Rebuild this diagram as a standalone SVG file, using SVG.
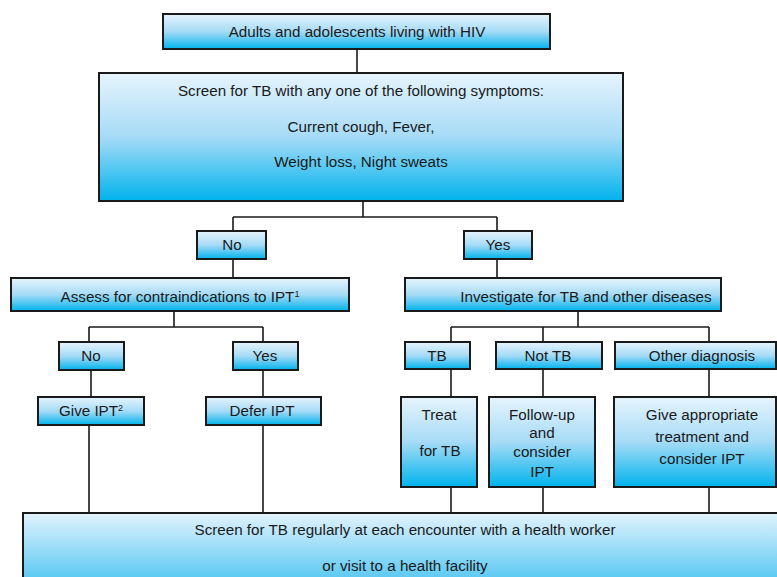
<svg xmlns="http://www.w3.org/2000/svg" width="777" height="577" viewBox="0 0 777 577">
<defs>
<linearGradient id="g" x1="0" y1="0" x2="0" y2="1">
<stop offset="0" stop-color="#e6f4fd"/>
<stop offset="0.5" stop-color="#a6dbf6"/>
<stop offset="1" stop-color="#00b3ed"/>
</linearGradient>
<linearGradient id="gb" x1="0" y1="0" x2="0" y2="1">
<stop offset="0" stop-color="#e2f3fd"/>
<stop offset="1" stop-color="#3fc0f0"/>
</linearGradient>
</defs>
<style>
.b{fill:url(#g);stroke:#1a1a1a;stroke-width:2}
.t{font-family:"Liberation Sans",Arial,sans-serif;font-size:15.2px;fill:#1a1a1a;text-anchor:middle}
.c{fill:none;stroke:#1a1a1a;stroke-width:1.6}
</style>
<rect width="777" height="577" fill="#ffffff"/>
<g id="connectors" class="c">
<path d="M357 49V73"/>
<path d="M363 201V217M233 217H497M233 217V231M497 217V231"/>
<path d="M233 258V278M497 258V278"/>
<path d="M174 311V327M89 327H263M89 327V342M263 327V342"/>
<path d="M91 370V397M263 370V397"/>
<path d="M578 311V327M451 327H709M451 327V342M543 327V342M709 327V342"/>
<path d="M451 369V397M543 369V397M709 369V397"/>
<path d="M89 425V513M263 425V513M451 487V513M543 487V513M709 487V513"/>
</g>
<g id="n1"><rect class="b" x="163" y="14" width="387" height="35"/><text class="t" x="357" y="37">Adults and adolescents living with HIV</text></g>
<g id="n2"><rect class="b" x="99" y="73" width="524" height="128"/>
<text class="t" x="361" y="96">Screen for TB with any one of the following symptoms:</text>
<text class="t" x="361" y="132">Current cough, Fever,</text>
<text class="t" x="361" y="167">Weight loss, Night sweats</text></g>
<g id="n3"><rect class="b" x="197" y="231" width="69" height="28"/><text class="t" x="232" y="250">No</text></g>
<g id="n4"><rect class="b" x="464" y="231" width="68" height="28"/><text class="t" x="498" y="250">Yes</text></g>
<g id="n5"><rect class="b" x="11" y="278" width="338" height="33"/><text class="t" x="180" y="302">Assess for contraindications to IPT<tspan font-size="9" dy="-5">1</tspan></text></g>
<g id="n6"><rect class="b" x="405" y="278" width="316" height="33"/><text class="t" x="586" y="302">Investigate for TB and other diseases</text></g>
<g id="n7"><rect class="b" x="59" y="342" width="65" height="28"/><text class="t" x="91" y="361">No</text></g>
<g id="n8"><rect class="b" x="233" y="342" width="65" height="28"/><text class="t" x="265" y="361">Yes</text></g>
<g id="n9"><rect class="b" x="405" y="342" width="65" height="27"/><text class="t" x="437" y="361">TB</text></g>
<g id="n10"><rect class="b" x="496" y="342" width="106" height="27"/><text class="t" x="548" y="361">Not TB</text></g>
<g id="n11"><rect class="b" x="615" y="342" width="161" height="27"/><text class="t" x="702" y="361">Other diagnosis</text></g>
<g id="n12"><rect class="b" x="38" y="397" width="106" height="28"/><text class="t" x="91" y="416">Give IPT<tspan font-size="9" dy="-5">2</tspan></text></g>
<g id="n13"><rect class="b" x="206" y="397" width="115" height="28"/><text class="t" x="262" y="416">Defer IPT</text></g>
<g id="n14"><rect class="b" x="401" y="397" width="76" height="90"/>
<text class="t" x="439" y="420">Treat</text><text class="t" x="440" y="456">for TB</text></g>
<g id="n15"><rect class="b" x="489" y="397" width="106" height="90"/>
<text class="t" x="542" y="420">Follow-up</text><text class="t" x="542" y="438">and</text><text class="t" x="542" y="457">consider</text><text class="t" x="542" y="477">IPT</text></g>
<g id="n16"><rect class="b" x="614" y="397" width="162" height="90"/>
<text class="t" x="702" y="420">Give appropriate</text><text class="t" x="702" y="442">treatment and</text><text class="t" x="702" y="464">consider IPT</text></g>
<g id="n17"><rect x="23" y="513" width="770" height="80" fill="url(#gb)" stroke="#1a1a1a" stroke-width="2"/>
<text class="t" x="405" y="535">Screen for TB regularly at each encounter with a health worker</text>
<text class="t" x="405" y="571">or visit to a health facility</text></g>
</svg>
